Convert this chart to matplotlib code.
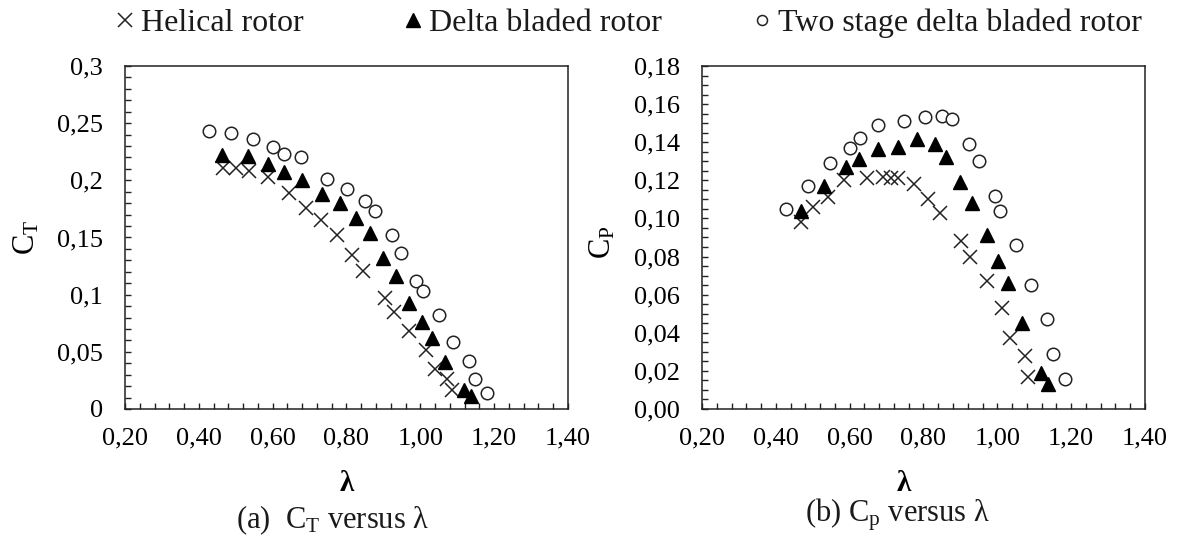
import matplotlib
matplotlib.use("Agg")
import matplotlib.pyplot as plt
from matplotlib.ticker import MultipleLocator, FuncFormatter

plt.rcParams['font.family'] = ['Liberation Serif', 'DejaVu Serif']
plt.rcParams['mathtext.fontset'] = 'custom'
plt.rcParams['mathtext.rm'] = 'Liberation Serif'
plt.rcParams['text.color'] = '#1a1a1a'

# Thrust coefficient data (lambda, C_T)
ct_helical_x = [0.466, 0.502, 0.537, 0.586, 0.644, 0.689, 0.730, 0.775, 0.816, 0.845,
                0.905, 0.928, 0.969, 1.015, 1.039, 1.072, 1.086]
ct_helical_y = [0.211, 0.211, 0.208, 0.203, 0.189, 0.176, 0.165, 0.152, 0.135, 0.121,
                0.097, 0.085, 0.068, 0.052, 0.035, 0.026, 0.017]
ct_delta_x = [0.463, 0.532, 0.588, 0.631, 0.680, 0.733, 0.782, 0.827, 0.863, 0.899,
              0.933, 0.970, 1.005, 1.032, 1.068, 1.119, 1.137]
ct_delta_y = [0.222, 0.221, 0.214, 0.207, 0.200, 0.188, 0.180, 0.167, 0.154, 0.132,
              0.116, 0.093, 0.076, 0.062, 0.041, 0.017, 0.011]
ct_two_x = [0.427, 0.487, 0.547, 0.602, 0.630, 0.677, 0.748, 0.802, 0.850, 0.877,
            0.922, 0.947, 0.989, 1.007, 1.051, 1.089, 1.132, 1.147, 1.180]
ct_two_y = [0.243, 0.241, 0.236, 0.229, 0.223, 0.220, 0.201, 0.192, 0.182, 0.173,
            0.152, 0.136, 0.112, 0.103, 0.082, 0.059, 0.042, 0.026, 0.014]

# Power coefficient data (lambda, C_p)
cp_helical_x = [0.468, 0.500, 0.541, 0.584, 0.648, 0.690, 0.711, 0.732, 0.773, 0.811,
                0.845, 0.903, 0.927, 0.972, 1.012, 1.035, 1.074, 1.083]
cp_helical_y = [0.098, 0.106, 0.111, 0.120, 0.121, 0.122, 0.121, 0.121, 0.118, 0.110,
                0.103, 0.088, 0.080, 0.067, 0.053, 0.037, 0.028, 0.017]
cp_delta_x = [0.468, 0.530, 0.591, 0.626, 0.678, 0.731, 0.783, 0.831, 0.862, 0.899,
              0.932, 0.971, 1.001, 1.028, 1.067, 1.119, 1.138]
cp_delta_y = [0.104, 0.117, 0.127, 0.131, 0.1365, 0.1376, 0.1416, 0.139, 0.132, 0.119,
              0.108, 0.0914, 0.0776, 0.066, 0.045, 0.019, 0.013]
cp_two_x = [0.4275, 0.488, 0.548, 0.601, 0.628, 0.678, 0.747, 0.805, 0.851, 0.878,
            0.922, 0.951, 0.995, 1.008, 1.052, 1.090, 1.134, 1.150, 1.183]
cp_two_y = [0.105, 0.117, 0.129, 0.137, 0.142, 0.149, 0.151, 0.153, 0.154, 0.152,
            0.139, 0.130, 0.112, 0.104, 0.086, 0.065, 0.047, 0.029, 0.016]

series_labels = ['Helical rotor', 'Delta bladed rotor', 'Two stage delta bladed rotor']


def comma_fmt(decimals):
    def f(v, pos):
        if decimals is None:
            s = ('%.2f' % v).rstrip('0').rstrip('.')
        else:
            s = '%.*f' % (decimals, v)
        return s.replace('.', ',')
    return FuncFormatter(f)


def draw_panel(ax, hx, hy, dx, dy, tx, ty):
    h, = ax.plot(hx, hy, 'x', color='#222222', ms=10, mew=1.1, ls='none')
    d, = ax.plot(dx, dy, '^', color='black', ms=9.5, ls='none')
    t, = ax.plot(tx, ty, 'o', mfc='white', mec='#222222', ms=9, mew=1.1, ls='none')
    ax.set_xlim(0.2, 1.4)
    ax.xaxis.set_major_locator(MultipleLocator(0.2))
    ax.xaxis.set_minor_locator(MultipleLocator(0.04))
    ax.xaxis.set_major_formatter(comma_fmt(2))
    ax.tick_params(which='both', direction='in', top=False, right=False,
                   length=4, width=1, labelsize=19, color='#222222')
    ax.tick_params(axis='y', pad=16)
    ax.tick_params(axis='x', pad=13)
    ax.set_xlabel('λ', fontsize=21, fontweight='bold')
    ax.xaxis.label.set_va('center')
    for s in ax.spines.values():
        s.set_linewidth(1.1)
        s.set_color('#222222')
    return h, d, t


fig = plt.figure(figsize=(11.85, 5.4), dpi=100)
ax1 = fig.add_axes([0.1055, 0.2426, 0.3738, 0.6352])
ax2 = fig.add_axes([0.5924, 0.2426, 0.3738, 0.6352])

handles = draw_panel(ax1, ct_helical_x, ct_helical_y, ct_delta_x, ct_delta_y, ct_two_x, ct_two_y)
ax1.set_ylim(0, 0.3)
ax1.yaxis.set_major_locator(MultipleLocator(0.05))
ax1.yaxis.set_minor_locator(MultipleLocator(0.01))
ax1.yaxis.set_major_formatter(comma_fmt(None))
ax1.set_ylabel(r'$\mathregular{C_T}$', fontsize=22)
ax1.yaxis.set_label_coords(-0.221, 0.50)
ax1.xaxis.set_label_coords(0.50, -0.216)

draw_panel(ax2, cp_helical_x, cp_helical_y, cp_delta_x, cp_delta_y, cp_two_x, cp_two_y)
ax2.set_ylim(0, 0.18)
ax2.yaxis.set_major_locator(MultipleLocator(0.02))
ax2.yaxis.set_minor_locator(MultipleLocator(0.005))
ax2.yaxis.set_major_formatter(comma_fmt(2))
ax2.set_ylabel(r'$\mathregular{C_P}$', fontsize=22)
ax2.yaxis.set_label_coords(-0.223, 0.486)
ax2.xaxis.set_label_coords(0.455, -0.216)

for ax in (ax1, ax2):
    ax.yaxis.label.set_va('center')

# Captions under each panel
fig.text(0.281, 0.036, r'(a)  $\mathregular{C_T}$ versus λ', fontsize=22, ha='center', va='center')
fig.text(0.757, 0.046, r'(b) $\mathregular{C_p}$ versus λ', fontsize=22, ha='center', va='center')

# Legend entries along the top
legend_x = [0.0984, 0.3414, 0.636]
legend_scale = [1.0, 1.1, 0.8]
for h, lab, x, sc in zip(handles, series_labels, legend_x, legend_scale):
    fig.legend([h], [lab], loc='center left', bbox_to_anchor=(x, 0.957), frameon=False,
               fontsize=23, handlelength=0.5, handletextpad=0.25, markerscale=sc,
               borderpad=0, borderaxespad=0)

fig.savefig('out.png', dpi=100)
